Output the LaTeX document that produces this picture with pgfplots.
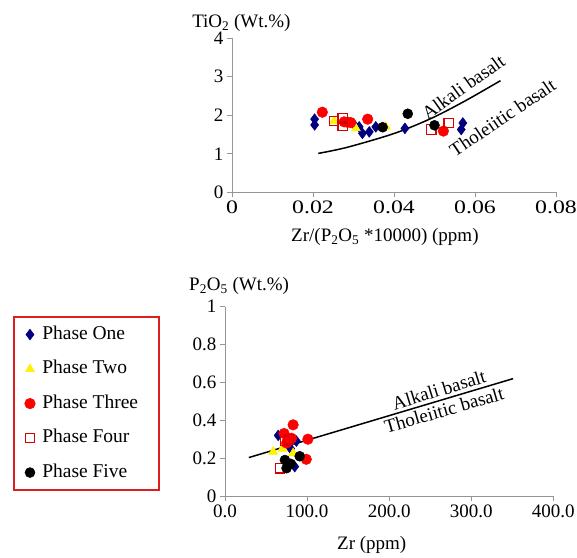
\documentclass[border=0pt]{standalone}
\usepackage{fontspec}
\setmainfont{Liberation Serif}
\usepackage{graphicx}
\usepackage{pgfplots}
\pgfplotsset{compat=1.18}
\definecolor{navyb}{RGB}{0,0,128}
\definecolor{axgray}{RGB}{150,150,150}
\definecolor{legred}{RGB}{220,30,30}
\newcommand{\sx}[1]{\scalebox{1.25}[1]{#1}}
\pgfplotsset{
  common/.style={
    scale only axis, anchor=south west, clip=false,
    axis x line*=bottom, axis y line*=left,
    axis line style={axgray, line width=0.8bp},
    tick style={axgray, line width=0.8bp},
    tick align=outside, major tick length=5bp,
    scaled x ticks=false, scaled y ticks=false,
    /pgf/number format/assume math mode=true,
  },
  p1/.style={only marks, mark=diamond*, mark size=5.4bp, navyb, mark options={fill=navyb, draw=navyb, line width=0.5bp}},
  p2/.style={only marks, mark=triangle*, mark size=5.2bp, yellow, mark options={fill=yellow, draw=yellow, line width=0.5bp}},
  p3/.style={only marks, mark=*, mark size=5.3bp, red, mark options={fill=red, draw=red, line width=0.5bp}},
  p4/.style={only marks, mark=square, mark size=4.7bp, red, mark options={draw=red!85!black, line width=1.3bp}},
  p5/.style={only marks, mark=*, mark size=5bp, black, mark options={fill=black, draw=black, line width=0.5bp}},
}
\begin{document}
\begin{tikzpicture}[font=\fontsize{19bp}{22bp}\selectfont]
\path[use as bounding box] (0bp,0bp) rectangle (577bp,558bp);
% ---------------- top panel ----------------
\begin{axis}[common,
  at={(232bp,365.7bp)}, width=324bp, height=154bp,
  xmin=0, xmax=0.08, ymin=0, ymax=4,
  xtick={0,0.02,0.04,0.06,0.08}, xticklabels={\sx{0},\sx{0.02},\sx{0.04},\sx{0.06},\sx{0.08}},
  ytick={0,1,2,3,4}, yticklabels={0,1,2,3,4},
  xlabel={Zr/(P\textsubscript{2}O\textsubscript{5} *10000) (ppm)},
  xlabel style={at={(axis description cs:0.472,-0.321)}, anchor=base},
  ylabel={TiO\textsubscript{2} (Wt.\%)},
  ylabel style={rotate=-90, at={(axis description cs:0.029,1.073)}, anchor=base},
]
\addplot[p1] coordinates {(0.0204,1.90)(0.0204,1.75)(0.0300,1.78)(0.0314,1.70)(0.0322,1.53)(0.0339,1.57)(0.0355,1.70)(0.0427,1.66)(0.0570,1.80)(0.0566,1.63)};
\addplot[p2] coordinates {(0.0252,1.85)(0.0306,1.66)(0.0380,1.70)};
\addplot[p3] coordinates {(0.0223,2.08)(0.0277,1.83)(0.0285,1.82)(0.0293,1.81)(0.0335,1.90)(0.0522,1.59)};
\addplot[p4] coordinates {(0.0252,1.85)(0.0273,1.92)(0.0273,1.72)(0.0492,1.63)(0.0535,1.80)};
\addplot[p5] coordinates {(0.0372,1.69)(0.0434,2.04)(0.0500,1.74)};
\addplot[black, line width=1.5bp, smooth, no marks] coordinates {(0.0213,1.01)(0.0285,1.17)(0.0401,1.53)(0.0492,1.92)(0.0575,2.37)(0.0663,2.90)};
\node[rotate=35.6] at (axis cs:0.0571,2.735) {Alkali basalt};
\node[rotate=34] at (axis cs:0.0668,1.943) {Tholeiitic basalt};
\end{axis}
% ---------------- bottom panel ----------------
\begin{axis}[common,
  at={(225bp,62bp)}, width=328.3bp, height=189.3bp,
  xmin=0, xmax=400, ymin=0, ymax=1,
  xtick={0,100,200,300,400}, xticklabels={0.0,100.0,200.0,300.0,400.0},
  ytick={0,0.2,0.4,0.6,0.8,1}, yticklabels={0,0.2,0.4,0.6,0.8,1},
  xlabel={Zr (ppm)},
  xlabel style={at={(axis description cs:0.447,-0.285)}, anchor=base},
  ylabel={P\textsubscript{2}O\textsubscript{5} (Wt.\%)},
  ylabel style={rotate=-90, at={(axis description cs:0.043,1.088)}, anchor=base},
  legend style={at={(axis description cs:-0.647,0.951)}, anchor=north west,
    draw=legred, line width=2.2bp, inner xsep=11bp, inner ysep=7bp,
    row sep=13.5bp, column sep=5bp, font=\fontsize{19.5bp}{22bp}\selectfont,
    nodes={text height=13bp, text depth=4bp, inner sep=2bp}},
  legend cell align=left,
]
\addplot[p1] coordinates {(64.8,0.32)(87,0.29)(85,0.155)(80,0.25)};
\addlegendentry{Phase One}
\addplot[p2] coordinates {(58.7,0.234)(83,0.226)(70,0.25)};
\addlegendentry{Phase Two}
\addplot[p3] coordinates {(83,0.376)(101,0.30)(99,0.194)(75,0.28)(81,0.305)(72,0.33)};
\addlegendentry{Phase Three\hspace*{8bp}}
\addplot[p4] coordinates {(73,0.29)(67,0.147)(78,0.30)};
\addlegendentry{Phase Four}
\addplot[p5] coordinates {(91,0.21)(73,0.19)(75,0.147)(80,0.17)};
\addlegendentry{Phase Five}
\addplot[black, line width=1.5bp, no marks, forget plot] coordinates {(29,0.203)(351,0.62)};
\node[rotate=17] at (axis cs:260.7,0.56) {Alkali basalt};
\node[rotate=16] at (axis cs:266.8,0.454) {Tholeiitic basalt};
\end{axis}
\end{tikzpicture}
\end{document}
